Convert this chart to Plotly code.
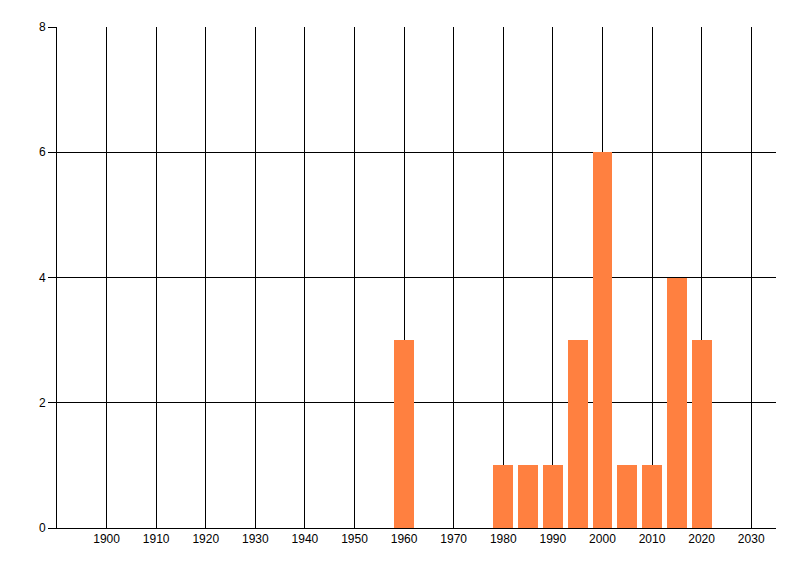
import plotly.graph_objects as go

years = [1960, 1980, 1985, 1990, 1995, 2000, 2005, 2010, 2015, 2020]
counts = [3, 1, 1, 1, 3, 6, 1, 1, 4, 3]
x_ticks = list(range(1900, 2031, 10))
y_ticks = [0, 2, 4, 6, 8]

fig = go.Figure(go.Bar(
    x=years, y=counts, width=4,
    marker=dict(color="#FF8040", line=dict(width=0)),
))

font = dict(family="Liberation Sans, Arial, sans-serif", size=12, color="#000000")

# page body has an 8px default margin, so the figure sits at (8, 8)
fig.update_layout(
    width=792, height=568,
    margin=dict(l=49, r=24, t=19, b=48, pad=0),
    paper_bgcolor="white", plot_bgcolor="white",
    showlegend=False,
    font=font,
    bargap=0,
)
fig.update_xaxes(
    range=[1890, 2035],
    tickvals=x_ticks, ticktext=[str(v) for v in x_ticks],
    showgrid=True, gridcolor="black", gridwidth=1,
    showline=True, linecolor="black", linewidth=1,
    ticks="", zeroline=False, tickfont=font,
)
fig.update_yaxes(
    range=[0, 8],
    tickvals=y_ticks,
    showgrid=True, gridcolor="black", gridwidth=1,
    showline=True, linecolor="black", linewidth=1,
    ticks="outside", ticklen=8, tickcolor="black", tickwidth=1,
    zeroline=False, tickfont=font,
)

fig.write_html("out.html")
